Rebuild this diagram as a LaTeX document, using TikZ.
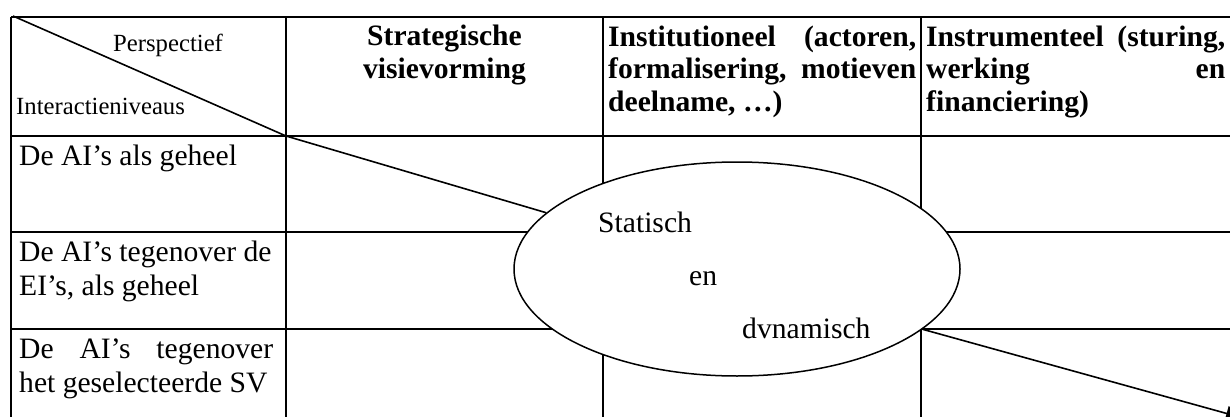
\documentclass[tikz,border=0pt]{standalone}
\usepackage{fontspec}
\setmainfont{Liberation Serif}
\usetikzlibrary{shapes.geometric,arrows.meta}
% type sizes used in the table
\newcommand\cellfont{\fontsize{29.6}{34}\selectfont}
\newcommand\cornerfont{\fontsize{24.7}{28}\selectfont}
\newcommand\headfont{\fontsize{29.6}{33}\selectfont\bfseries}
\begin{document}
\begin{tikzpicture}[x=1pt,y=-1pt,
  grid line/.style={line width=2pt},
  thin line/.style={line width=1.6pt},
  celltext/.style={inner sep=0pt,anchor=base west,font=\cellfont,align=left},
  cornertext/.style={inner sep=0pt,anchor=base west,font=\cornerfont},
  headtext/.style={inner sep=0pt,font=\headfont},
  oval/.style={draw,ellipse,line width=1.5pt,fill=white,inner sep=0pt,
    minimum width=446pt,minimum height=214pt},
  ovaltext/.style={inner sep=0pt,anchor=base west,font=\cellfont}]
\clip (0,0) rectangle (1230,417);
\fill[white] (0,0) rectangle (1230,417);

% table rules (the table runs on past the right and bottom edges)
\foreach \yy in {17,136,232,329}
  \draw[grid line] (11,\yy) -- (1245,\yy);
\foreach \xx in {11,286,603,921}
  \draw[grid line] (\xx,17) -- (\xx,430);

% corner cell
\coordinate (cornerTL) at (13,16);
\coordinate (cornerBR) at (286,136);
\draw[thin line] (cornerTL) -- (cornerBR);
\node[cornertext] (persp) at (113,52) {Perspectief};
\node[cornertext] (levels) at (16,114) {Interactieniveaus};

% column heads (multi-line nodes sit on the baseline of their last line)
\node[headtext,anchor=base,align=center] (colA) at (444.5,79)
  {Strategische\\visievorming};
\node[headtext,anchor=base west,align=left] (colB) at (608,112)
  {\makebox[308pt][s]{Institutioneel (actoren,}\\
   \makebox[308pt][s]{formalisering, motieven}\\
   deelname, …)};
\node[headtext,anchor=base west,align=left] (colC) at (926,112)
  {\makebox[299pt][s]{Instrumenteel (sturing,}\\
   \makebox[299pt][s]{werking en}\\
   financiering)};

% row heads
\node[celltext] (rowA) at (19,165) {De AI’s als geheel};
\node[celltext] (rowB) at (19,295) {De AI’s tegenover de\\EI’s, als geheel};
\node[celltext] (rowC) at (19,392)
  {\makebox[254pt][s]{De AI’s tegenover}\\het geselecteerde SV};

% the oval across the middle
\node[oval] (ell) at (737,269) {};
\node[ovaltext] (wStat) at (598,232) {Statisch};
\node[ovaltext] (wEn) at (689,285) {en};
\node[ovaltext] (wDyn) at (742,338) {dvnamisch};

% connectors
\draw[thin line] (cornerBR) -- (ell);
\coordinate (arrowEnd) at (1243,418);
\draw[thin line,-{Triangle[length=17pt,width=15pt]}] (ell.-18.3) -- (arrowEnd);
\end{tikzpicture}
\end{document}
